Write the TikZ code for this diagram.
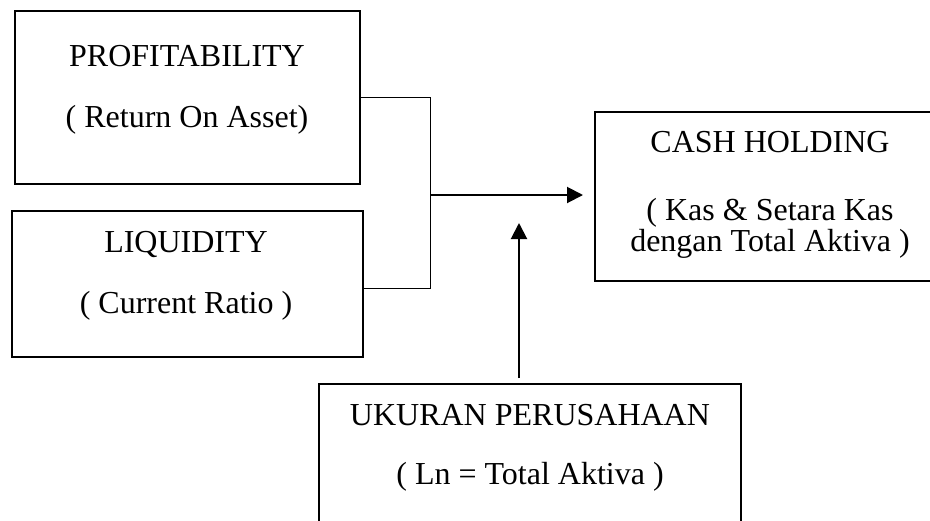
\documentclass[tikz,border=0pt]{standalone}
\usepackage{fontspec}
\setmainfont{Liberation Serif}
\usetikzlibrary{arrows.meta,positioning}

\begin{document}
\begin{tikzpicture}[x=1pt,y=-1pt,
    box/.style={draw,line width=2.2pt,inner sep=0pt},
    lbl/.style={font=\fontsize{32}{38}\selectfont,inner sep=0pt,anchor=base},
    link/.style={line width=1pt},
    flow/.style={line width=2pt,-{Triangle[length=16pt,width=16pt]}}]
\clip (0,0) rectangle (930,520);

    \node [box, minimum width=345pt, minimum height=173pt] (prof) at (187.5,97.5) {};
    \node [box, minimum width=351pt, minimum height=146pt] (liq) at (187.5,284) {};
    \node [box, minimum width=365pt, minimum height=169pt] (cash) at (777.5,196.5) {};
    \node [box, minimum width=422pt, minimum height=187pt] (size) at (530,477.5) {};

    \node [lbl] (profA) at (187,66) {PROFITABILITY};
    \node [lbl] (profB) at (187,127) {( Return On Asset)};
    \node [lbl] (liqA) at (186,252) {LIQUIDITY};
    \node [lbl] (liqB) at (186,313) {( Current Ratio )};
    \node [lbl] (cashA) at (770,152) {CASH HOLDING};
    \node [lbl] (cashB) at (770,220) {( Kas \& Setara Kas};
    \node [lbl] (cashC) at (770,251) {dengan Total Aktiva )};
    \node [lbl] (sizeA) at (530,425) {UKURAN PERUSAHAAN};
    \node [lbl] (sizeB) at (530,484) {( Ln = Total Aktiva )};

    \coordinate (top) at (430,97.5);
    \coordinate (bot) at (430,288);
    \coordinate (join) at (430,195);
    \coordinate (foot) at (519,378);
    \coordinate (tip) at (519,223);

    \draw [link] (prof.east) -- (top) -- (bot) -- (liq.east |- bot);
    \draw [flow] (join) -- (583,195);
    \draw [flow] (foot) -- (tip);

\end{tikzpicture}
\end{document}
